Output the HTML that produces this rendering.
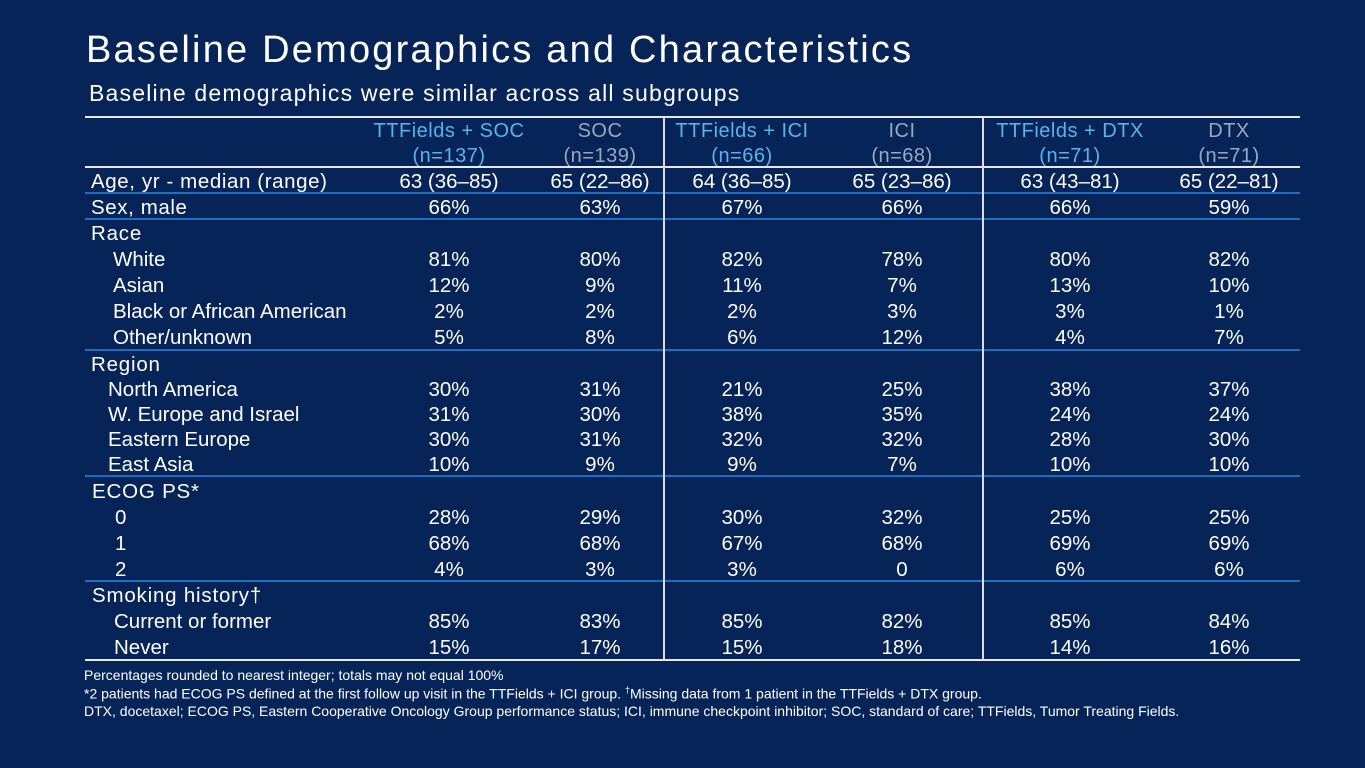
<!DOCTYPE html>
<html><head><meta charset="utf-8">
<style>
body{margin:0;width:1365px;height:768px;background:#062457;overflow:hidden;font-family:"Liberation Sans",sans-serif;color:#fff;position:relative}
.a{position:absolute;white-space:nowrap}
.c{position:absolute;transform:translateX(-50%);white-space:nowrap;font-size:20.5px;line-height:22px}
.l{position:absolute;font-size:20.5px;line-height:22px;white-space:nowrap}
.hl{position:absolute;left:85px;width:1215px;height:2px}
.vl{position:absolute;top:117px;height:543px;width:1.5px;background:#ddd}
.fn{position:absolute;left:84px;font-size:14px;white-space:nowrap;color:#fff}
</style></head><body>
<div class="a" style="left:86px;top:29px;font-size:38px;letter-spacing:2.2px">Baseline Demographics and Characteristics</div>
<div class="a" style="left:89px;top:80px;font-size:23px;letter-spacing:1.2px">Baseline demographics were similar across all subgroups</div>
<div id="tbl"></div>
<div class="fn" style="top:667px">Percentages rounded to nearest integer; totals may not equal 100%</div>
<div class="fn" style="top:685px">*2 patients had ECOG PS defined at the first follow up visit in the TTFields + ICI group. <sup style="font-size:9px">†</sup>Missing data from 1 patient in the TTFields + DTX group.</div>
<div class="fn" style="top:703px">DTX, docetaxel; ECOG PS, Eastern Cooperative Oncology Group performance status; ICI, immune checkpoint inhibitor; SOC, standard of care; TTFields, Tumor Treating Fields.</div>
<script>
const heads=["TTFields + SOC","SOC","TTFields + ICI","ICI","TTFields + DTX","DTX"];
const ns=["(n=137)","(n=139)","(n=66)","(n=68)","(n=71)","(n=71)"];
const labels=["Age, yr - median (range)","Sex, male","Race","White","Asian","Black or African American","Other/unknown","Region","North America","W. Europe and Israel","Eastern Europe","East Asia","ECOG PS*","0","1","2","Smoking history†","Current or former","Never"];
const values=[
["63 (36–85)","65 (22–86)","64 (36–85)","65 (23–86)","63 (43–81)","65 (22–81)"],
["66%","63%","67%","66%","66%","59%"],
null,
["81%","80%","82%","78%","80%","82%"],
["12%","9%","11%","7%","13%","10%"],
["2%","2%","2%","3%","3%","1%"],
["5%","8%","6%","12%","4%","7%"],
null,
["30%","31%","21%","25%","38%","37%"],
["31%","30%","38%","35%","24%","24%"],
["30%","31%","32%","32%","28%","30%"],
["10%","9%","9%","7%","10%","10%"],
null,
["28%","29%","30%","32%","25%","25%"],
["68%","68%","67%","68%","69%","69%"],
["4%","3%","3%","0","6%","6%"],
null,
["85%","83%","85%","82%","85%","84%"],
["15%","17%","15%","18%","14%","16%"]];
const rowY=[182,208,234,260,286,312,338,365,390,415,440,465,492,518,544,570,596,622,648];
const indent=[91,91,91,113,113,113,113,91,108,108,108,108,92,115,115,115,92,114,114];
const colX=[449,600,742,902,1070,1229];
const t=document.getElementById('tbl');
function line(y,color,name){const d=document.createElement('div');d.className='hl';d.style.top=y+'px';d.style.background=color;


t.appendChild(d);}
line(116,'#e8e8e8','table-top-rule');line(166,'#e8e8e8','header-rule');line(659,'#e8e8e8','table-bottom-rule');
[193,219,350,476,581].forEach(y=>line(y-1,'#1f6fc0','group-separator'));
[663,982].forEach(x=>{const d=document.createElement('div');d.className='vl';d.style.left=x+'px';


t.appendChild(d);});
heads.forEach((h,i)=>{const col=i%2==0?'#58b4ea':'#9aa8c0';
const d=document.createElement('div');d.className='c';d.style.left=colX[i]+'px';d.style.top='119px';d.style.color=col;d.style.textAlign='center';d.style.lineHeight='25px';d.style.fontSize='20px';d.style.letterSpacing='0.5px';
d.innerHTML=h+'<br>'+ns[i];


t.appendChild(d);});
labels.forEach((lb,r)=>{const d=document.createElement('div');d.className='l';d.style.left=indent[r]+'px';d.style.top=(rowY[r]-11)+'px';d.textContent=lb;
if(indent[r]<93&&values[r]===null)d.style.letterSpacing='0.8px';
if(r<2)d.style.letterSpacing='0.6px';


t.appendChild(d);
if(values[r])values[r].forEach((v,i)=>{const e=document.createElement('div');e.className='c';e.style.left=colX[i]+'px';e.style.top=(rowY[r]-11)+'px';e.textContent=v;


t.appendChild(e);});
});
</script>
</body></html>
